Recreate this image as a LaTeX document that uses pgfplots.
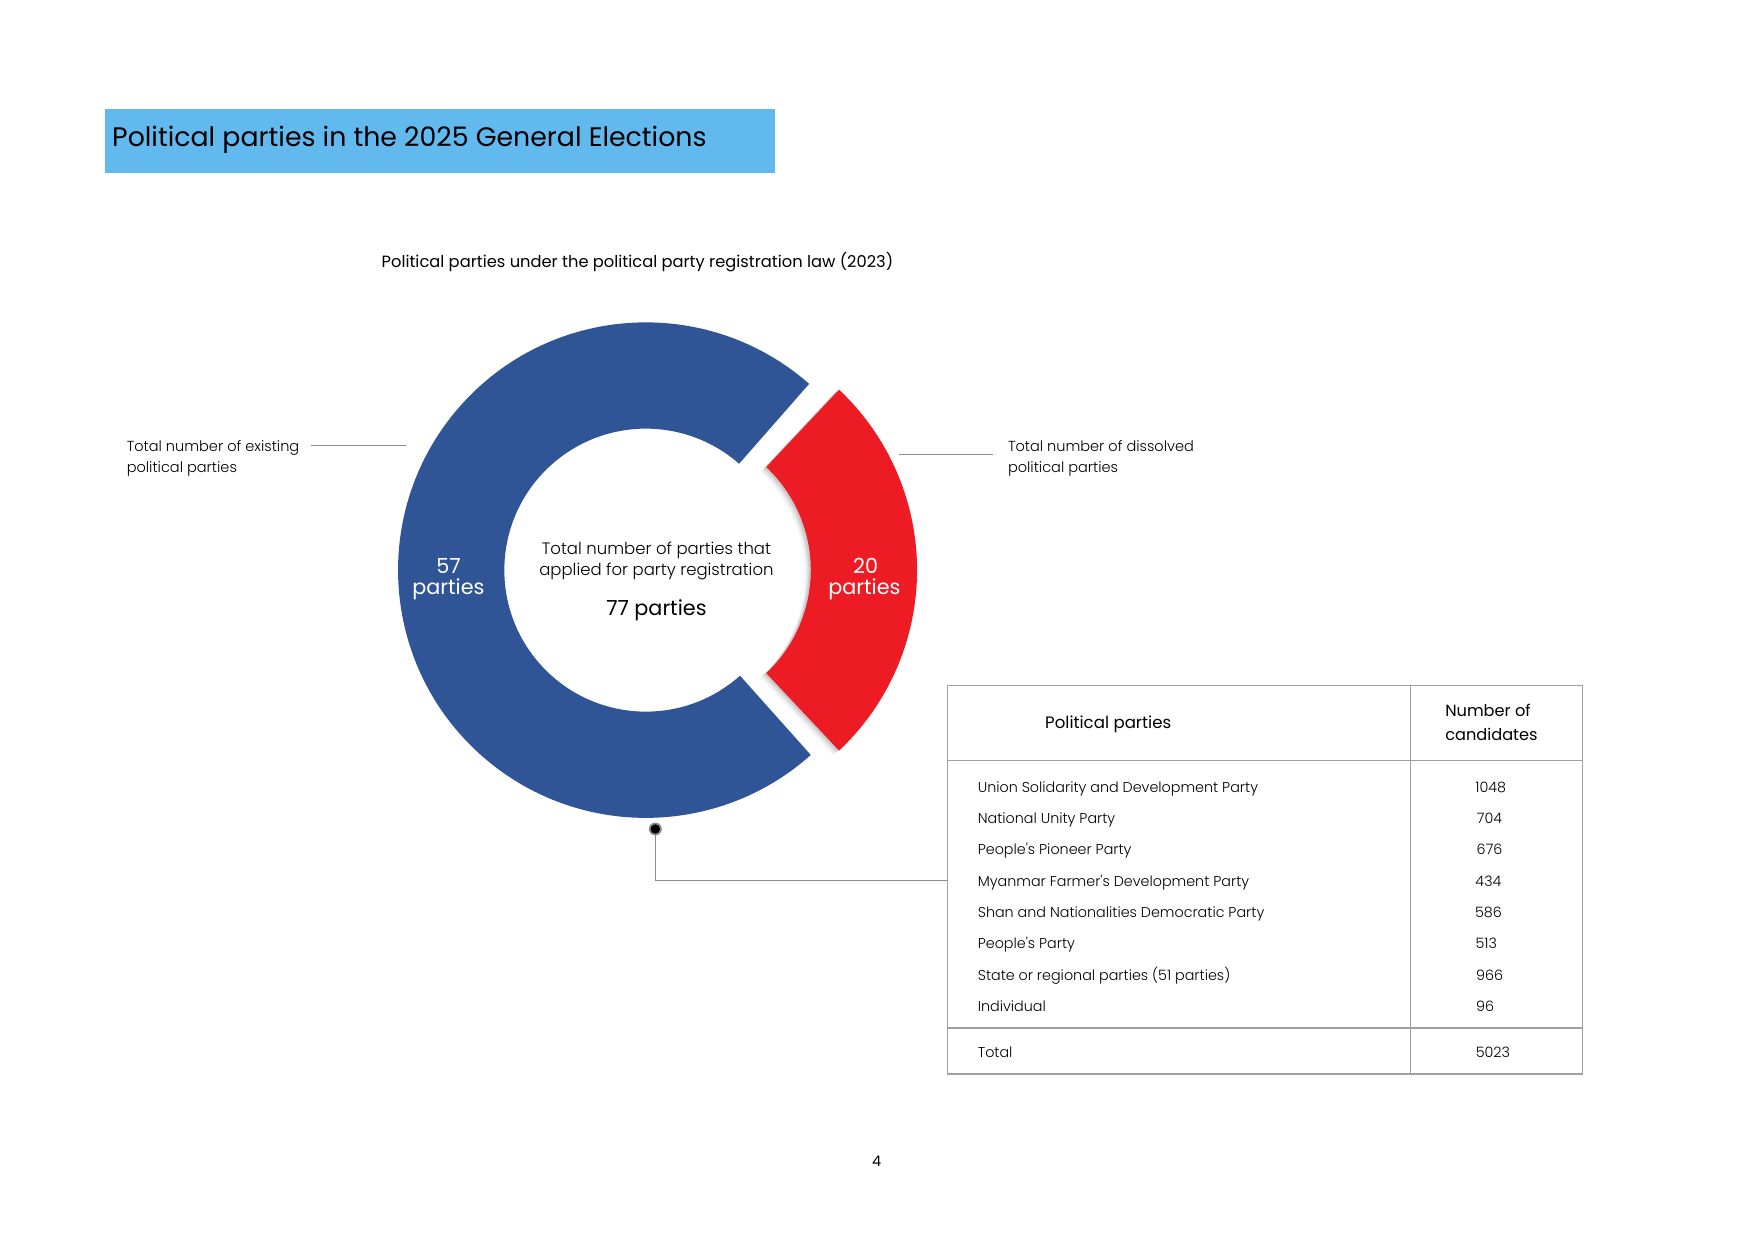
\documentclass[border=0pt]{standalone}
\usepackage{pgfplots}
\pgfplotsset{compat=1.18}
\usepackage{pgfplotstable}
\usepackage{fontspec}
\setmainfont{Poppins}
\newfontfamily\lightfont{Poppins Light}
\definecolor{titlebg}{HTML}{62B9EE}
\definecolor{donutblue}{HTML}{2F5597}
\definecolor{donutred}{HTML}{ED1C24}
\definecolor{linegray}{HTML}{8C8C8C}
\definecolor{tablegray}{HTML}{A0A0A0}

\pgfplotstableread{
group value
existing 57
dissolved 20
}\partytable

% radii (cm) of the ring: outer 221.5 units, inner 126.5 units, 1 unit = 0.018941 cm
\newcommand\Ro{4.1954}
\newcommand\Ri{2.3960}
\newcommand\Rd{1.7994}
% ring segment: centre x, centre y (units, y from top), start angle, end angle
\newcommand\ringseg[4]{(axis cs:#1,#2) ++(#3:\Ro cm) arc[start angle=#3, end angle=#4, radius=\Ro cm] -- ++(#4+180:\Rd cm) arc[start angle=#4, end angle=#3, radius=\Ri cm] -- cycle}

\begin{document}%
\begin{tikzpicture}
\pgfplotstablegetelem{0}{value}\of\partytable
\pgfmathsetmacro\vA{\pgfplotsretval}
\pgfplotstablegetelem{1}{value}\of\partytable
\pgfmathsetmacro\vB{\pgfplotsretval}
\pgfmathsetmacro\half{\vB/(\vA+\vB)*180}
\pgfmathsetmacro\redA{-\half}
\pgfmathsetmacro\redB{\half}
\pgfmathsetmacro\blueA{\half+2}
\pgfmathsetmacro\blueB{360-\half-1.5}
\useasboundingbox (0,0) rectangle (29.7cm,21.0131cm);
\begin{axis}[
  x=0.018941cm, y=0.018941cm,
  xmin=0, xmax=1568, ymin=0, ymax=1109.4,
  y dir=reverse,
  hide axis, clip=false,
  anchor=south west, at={(0,0)},
]
% title
\fill[titlebg] (axis cs:94,97) rectangle (axis cs:693,154);
\node[anchor=mid west, inner sep=0pt, font=\fontsize{12.9}{15}\selectfont] at (axis cs:100,125.5) {Political parties in the 2025 General Elections};
% subtitle
\node[anchor=mid, inner sep=0pt, font=\fontsize{7.85}{10}\selectfont] at (axis cs:570,234) {Political parties under the political party registration law (2023)};

% donut: blue (existing)
\fill[donutblue] \ringseg{577.5}{509.5}{\blueA}{\blueB};
% shadow for exploded red slice
\fill[black, opacity=0.05] \ringseg{593.5}{513.5}{\redA}{\redB};
\fill[black, opacity=0.07] \ringseg{595}{512}{\redA}{\redB};
\fill[black, opacity=0.10] \ringseg{596.5}{510.5}{\redA}{\redB};
\fill[donutred] \ringseg{598.5}{509.5}{\redA}{\redB};

% slice labels
\begin{scope}[every node/.style={anchor=mid, inner sep=0pt, text=white, font=\fontsize{10}{10}\selectfont}]
\node at (axis cs:401,507) {57};
\node at (axis cs:401,526) {parties};
\node at (axis cs:774,507) {20};
\node at (axis cs:773,526) {parties};
\end{scope}

% centre text
\node[anchor=mid, inner sep=0pt, font=\lightfont\fontsize{7.95}{10}\selectfont] at (axis cs:587,490) {Total number of parties that};
\node[anchor=mid, inner sep=0pt, font=\lightfont\fontsize{7.95}{10}\selectfont] at (axis cs:587,509) {applied for party registration};
\node[anchor=mid, inner sep=0pt, font=\fontsize{10}{12}\selectfont] at (axis cs:587,545) {77 parties};

% side labels
\begin{scope}[every node/.style={anchor=mid west, inner sep=0pt, font=\lightfont\fontsize{7}{9}\selectfont}]
\node at (axis cs:113,398) {Total number of existing};
\node at (axis cs:113,417) {political parties};
\node at (axis cs:901,398) {Total number of dissolved};
\node at (axis cs:901,417) {political parties};
\end{scope}
\draw[linegray, line width=0.6pt] (axis cs:278,398) -- (axis cs:363,398);
\draw[linegray, line width=0.6pt] (axis cs:804,406) -- (axis cs:888,406);

% connector
\draw[linegray, line width=0.6pt] (axis cs:586,741) -- (axis cs:586,787) -- (axis cs:847,787);
\fill[linegray] (axis cs:586,741) circle[radius=0.11cm];
\fill[black] (axis cs:586,741) circle[radius=0.08cm];

% table
\draw[tablegray, line width=0.6pt] (axis cs:847,613) rectangle (axis cs:1415,960);
\draw[tablegray, line width=0.6pt] (axis cs:1261,613) -- (axis cs:1261,960);
\draw[tablegray, line width=0.6pt] (axis cs:847,680) -- (axis cs:1415,680);
\draw[tablegray, line width=0.6pt] (axis cs:847,919) -- (axis cs:1415,919);
\node[anchor=mid, inner sep=0pt, font=\fontsize{8}{10}\selectfont] at (axis cs:991,646) {Political parties};
\node[anchor=mid west, inner sep=0pt, font=\fontsize{7.8}{10}\selectfont] at (axis cs:1292,635) {Number of};
\node[anchor=mid west, inner sep=0pt, font=\fontsize{7.8}{10}\selectfont] at (axis cs:1292,657) {candidates};
\begin{scope}[every node/.style={inner sep=0pt, font=\lightfont\fontsize{6.9}{9}\selectfont}]
\node[anchor=mid west] at (axis cs:874,703) {Union Solidarity and Development Party};
\node[anchor=mid west] at (axis cs:874,731) {National Unity Party};
\node[anchor=mid west] at (axis cs:874,759) {People's Pioneer Party};
\node[anchor=mid west] at (axis cs:874,787) {Myanmar Farmer's Development Party};
\node[anchor=mid west] at (axis cs:874,815) {Shan and Nationalities Democratic Party};
\node[anchor=mid west] at (axis cs:874,843) {People's Party};
\node[anchor=mid west] at (axis cs:874,871) {State or regional parties (51 parties)};
\node[anchor=mid west] at (axis cs:874,899) {Individual};
\node[anchor=mid west] at (axis cs:874,940) {Total};
\node[anchor=mid] at (axis cs:1333,703) {1048};
\node[anchor=mid] at (axis cs:1332,731) {704};
\node[anchor=mid] at (axis cs:1332,759) {676};
\node[anchor=mid] at (axis cs:1331,787) {434};
\node[anchor=mid] at (axis cs:1331,815) {586};
\node[anchor=mid] at (axis cs:1329,843) {513};
\node[anchor=mid] at (axis cs:1332,871) {966};
\node[anchor=mid] at (axis cs:1328,899) {96};
\node[anchor=mid] at (axis cs:1335,940) {5023};
\end{scope}
% page number
\node[anchor=mid, inner sep=0pt, font=\fontsize{7}{9}\selectfont] at (axis cs:784,1038) {4};
\end{axis}
\end{tikzpicture}%
\end{document}
